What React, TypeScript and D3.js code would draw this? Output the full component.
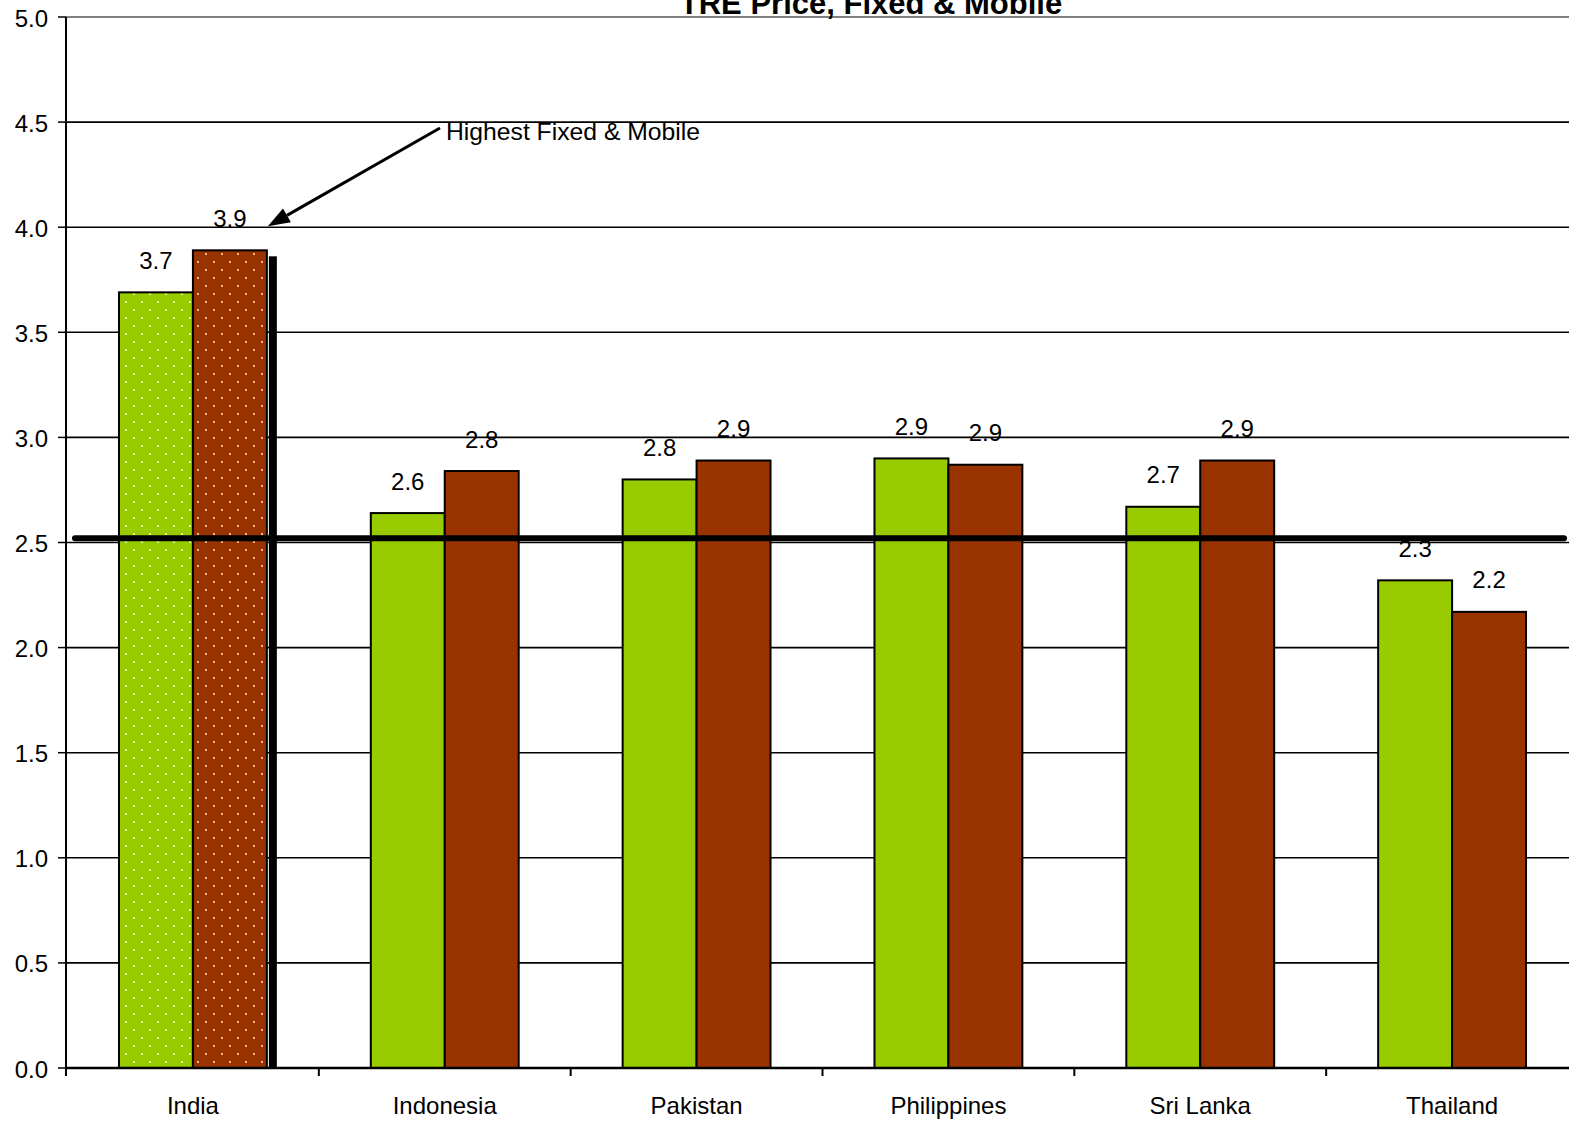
import React from "react";
import * as d3 from "d3";

// Tariff index per country, fixed and mobile
const categories = ["India", "Indonesia", "Pakistan", "Philippines", "Sri Lanka", "Thailand"];
const seriesKeys = ["fixed", "mobile"];
const fixedValues = [3.69, 2.64, 2.8, 2.9, 2.67, 2.32];
const mobileValues = [3.89, 2.84, 2.89, 2.87, 2.89, 2.17];
const yTicks = [0, 0.5, 1, 1.5, 2, 2.5, 3, 3.5, 4, 4.5, 5];
const averageValue = 2.52;
const highlightCategory = "India";
const titleText = "TRE Price, Fixed & Mobile";
const annotationText = "Highest Fixed & Mobile";

const W = 1569;
const H = 1124;
const FONT = "'Liberation Sans', Arial, Helvetica, sans-serif";
const GREEN = "#99CC00";
const BROWN = "#993300";

export default function App() {
  const x = d3.scaleBand<string>().domain(categories).range([67, 1578]).paddingInner(0).paddingOuter(0);
  const sub = d3
    .scaleBand<string>()
    .domain(seriesKeys)
    .range([0, x.bandwidth()])
    .paddingInner(0)
    .paddingOuter(0.703);
  const y = d3.scaleLinear().domain([0, 5]).range([1068, 17]);
  const fmt = d3.format(".1f");

  const rows = categories.map((c, i) => ({
    category: c,
    values: [
      { key: "fixed", value: fixedValues[i] },
      { key: "mobile", value: mobileValues[i] },
    ],
  }));

  const x0 = y.range()[0];
  const plotLeft = 66;

  // arrow from annotation text to the highlighted mobile bar
  const hiIdx = categories.indexOf(highlightCategory);
  const hiRight = (x(highlightCategory) ?? 0) + (sub("mobile") ?? 0) + sub.bandwidth();
  const tip: [number, number] = [hiRight + 1, y(mobileValues[hiIdx]) - 24];
  const tail: [number, number] = [440, 128];
  const ang = Math.atan2(tail[1] - tip[1], tail[0] - tip[0]);
  const headLen = 22;
  const headHalf = 8;
  const bx = tip[0] + Math.cos(ang) * headLen;
  const by = tip[1] + Math.sin(ang) * headLen;
  const px = -Math.sin(ang) * headHalf;
  const py = Math.cos(ang) * headHalf;
  const head = `M${tip[0]},${tip[1]}L${bx + px},${by + py}L${bx - px},${by - py}Z`;

  return (
    <svg
      width={W}
      height={H}
      style={{ position: "absolute", left: 0, top: 0, background: "#fff" }}
      fontFamily={FONT}
    >
      <defs>
        <pattern id="dotsGreen" width={16} height={16} patternUnits="userSpaceOnUse" x={2} y={2}>
          <rect width={16} height={16} fill={GREEN} />
          <rect x={3} y={3} width={2} height={2} fill="#e4f3a6" />
          <rect x={11} y={11} width={2} height={2} fill="#e4f3a6" />
        </pattern>
        <pattern id="dotsBrown" width={16} height={16} patternUnits="userSpaceOnUse" x={2} y={2}>
          <rect width={16} height={16} fill={BROWN} />
          <rect x={3} y={3} width={2} height={2} fill="#eab59c" />
          <rect x={11} y={11} width={2} height={2} fill="#eab59c" />
        </pattern>
      </defs>

      {/* horizontal gridlines */}
      {yTicks.map((t) => (
        <line
          key={`g${t}`}
          x1={plotLeft}
          x2={W}
          y1={y(t)}
          y2={y(t)}
          stroke={t === 5 ? "#808080" : "#000"}
          strokeWidth={t === 5 ? 2 : 1.6}
        />
      ))}

      {/* bars */}
      {rows.map((r) =>
        r.values.map((v) => {
          const bx0 = (x(r.category) ?? 0) + (sub(v.key) ?? 0);
          const hi = r.category === highlightCategory;
          const fill = v.key === "fixed" ? (hi ? "url(#dotsGreen)" : GREEN) : hi ? "url(#dotsBrown)" : BROWN;
          return (
            <rect
              key={`${r.category}-${v.key}`}
              x={bx0}
              y={y(v.value)}
              width={sub.bandwidth()}
              height={x0 - y(v.value)}
              fill={fill}
              stroke="#000"
              strokeWidth={2}
            />
          );
        })
      )}

      {/* emphasis shadow beside the highlighted mobile bar */}
      <rect
        x={hiRight + 2}
        y={y(mobileValues[hiIdx]) + 6}
        width={8}
        height={x0 - y(mobileValues[hiIdx]) - 6}
        fill="#000"
      />

      {/* average line */}
      <line
        x1={plotLeft + 9}
        x2={W - 5}
        y1={y(averageValue)}
        y2={y(averageValue)}
        stroke="#000"
        strokeWidth={6}
        strokeLinecap="round"
      />

      {/* value labels */}
      {rows.map((r) =>
        r.values.map((v) => {
          const cx = (x(r.category) ?? 0) + (sub(v.key) ?? 0) + sub.bandwidth() / 2;
          return (
            <text
              key={`l-${r.category}-${v.key}`}
              x={cx}
              y={y(v.value) - 23.5}
              textAnchor="middle"
              fontSize={24}
              fill="#000"
            >
              {fmt(v.value)}
            </text>
          );
        })
      )}

      {/* y axis */}
      <line x1={plotLeft} x2={plotLeft} y1={y(5)} y2={x0 + 8} stroke="#000" strokeWidth={2} />
      {yTicks.map((t) => (
        <g key={`yt${t}`}>
          <line x1={plotLeft - 8} x2={plotLeft} y1={y(t)} y2={y(t)} stroke="#000" strokeWidth={1.5} />
          <text x={48} y={y(t) + 9.5} textAnchor="end" fontSize={24} fill="#000">
            {fmt(t)}
          </text>
        </g>
      ))}

      {/* x axis */}
      <line x1={plotLeft} x2={W} y1={x0} y2={x0} stroke="#000" strokeWidth={2.5} />
      {categories.slice(1).map((c) => (
        <line key={`xt${c}`} x1={x(c)} x2={x(c)} y1={x0} y2={x0 + 8} stroke="#000" strokeWidth={2} />
      ))}
      {categories.map((c) => (
        <text
          key={`xl${c}`}
          x={(x(c) ?? 0) + x.bandwidth() / 2}
          y={1114}
          textAnchor="middle"
          fontSize={24}
          fill="#000"
        >
          {c}
        </text>
      ))}

      {/* annotation */}
      <line x1={tail[0]} y1={tail[1]} x2={bx} y2={by} stroke="#000" strokeWidth={3} />
      <path d={head} fill="#000" />
      <text x={446} y={140} fontSize={24} fill="#000" textLength={254} lengthAdjust="spacingAndGlyphs">
        {annotationText}
      </text>

      {/* title */}
      <text x={871} y={14} textAnchor="middle" fontSize={31} fontWeight="bold" fill="#000">
        {titleText}
      </text>
    </svg>
  );
}
